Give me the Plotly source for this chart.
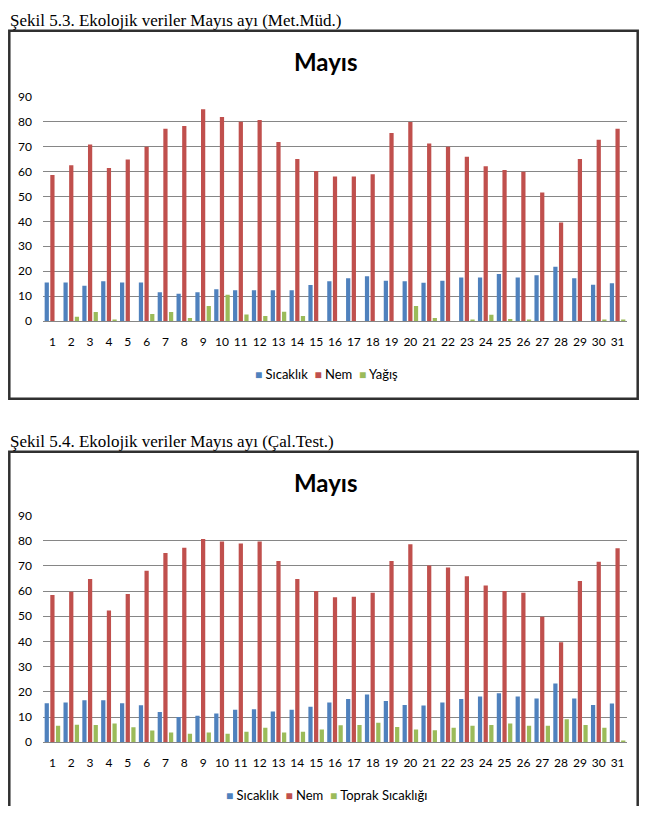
import plotly.graph_objects as go

# The page keeps its default 8 px body margin, so the figure is 631 x 805 and every
# reference pixel position (x, y) is placed at (x - 8, y - 8) inside the figure.
W, H, OFF = 631, 805, 8

days = [str(d) for d in range(1, 32)]

# Chart 1 (Met.Müd.)
sicaklik_1 = [15.5, 15.5, 14.2, 16.0, 15.5, 15.5, 11.6, 11.0, 11.6, 12.8, 12.4, 12.4, 12.4, 12.4, 14.5,
              16.0, 17.2, 18.0, 16.2, 16.0, 15.4, 16.2, 17.5, 17.5, 18.9, 17.5, 18.4, 21.8, 17.2, 14.6, 15.2]
nem_1 = [58.6, 62.5, 70.8, 61.4, 64.8, 69.9, 77.1, 78.2, 84.9, 81.8, 79.9, 80.6, 71.8, 65.0, 60.2,
         58.0, 58.0, 58.9, 75.4, 79.8, 71.2, 69.9, 65.9, 62.1, 60.6, 59.9, 51.5, 39.5, 65.0, 72.7, 77.1]
yagis_1 = [0.0, 1.8, 3.7, 0.4, 0.0, 2.9, 3.7, 1.3, 6.1, 10.6, 2.7, 2.1, 3.8, 2.1, 0.0,
           0.0, 0.0, 0.0, 0.0, 6.1, 1.3, 0.0, 0.4, 2.6, 0.9, 0.4, 0.0, 0.0, 0.0, 0.4, 0.4]

# Chart 2 (Çal.Test.)
sicaklik_2 = [15.5, 15.8, 16.7, 16.7, 15.5, 14.7, 12.0, 10.0, 10.5, 11.4, 12.9, 13.1, 12.2, 12.9, 14.1,
              15.8, 17.2, 18.9, 16.4, 14.8, 14.6, 15.8, 17.2, 18.1, 19.4, 18.1, 17.4, 23.3, 17.4, 14.8, 15.4]
nem_2 = [58.4, 59.7, 64.8, 52.3, 58.8, 68.1, 75.1, 77.2, 80.7, 79.7, 78.9, 79.7, 71.9, 64.8, 60.0,
         57.6, 57.8, 59.3, 71.9, 78.6, 70.2, 69.4, 65.9, 62.2, 60.0, 59.3, 49.8, 39.7, 64.0, 71.6, 77.0]
toprak_2 = [6.5, 6.9, 6.8, 7.4, 5.9, 4.7, 3.9, 3.4, 3.9, 3.4, 4.2, 5.7, 3.9, 4.2, 5.0,
            6.7, 6.8, 7.7, 6.0, 5.0, 4.8, 5.7, 6.5, 6.8, 7.4, 6.5, 6.5, 9.1, 6.8, 5.7, 0.4]

y_ticks = [0, 10, 20, 30, 40, 50, 60, 70, 80, 90]

BLUE, RED, GREEN = "#4F81BD", "#C0504D", "#9BBB59"
GRID = "#868686"
FONT = "Lato"
FRAME = "#303030"


def X(px):
    return (px - OFF) / W


def Y(py):
    return 1 - (py - OFF) / H


fig = go.Figure()

series_1 = [("Sıcaklık", sicaklik_1, BLUE), ("Nem", nem_1, RED), ("Yağış", yagis_1, GREEN)]
series_2 = [("Sıcaklık", sicaklik_2, BLUE), ("Nem", nem_2, RED), ("Toprak Sıcaklığı", toprak_2, GREEN)]

for name, vals, col in series_1:
    fig.add_trace(go.Bar(x=days, y=vals, name=name, marker=dict(color=col, line=dict(width=0)),
                         xaxis="x", yaxis="y", showlegend=False))
for name, vals, col in series_2:
    fig.add_trace(go.Bar(x=days, y=vals, name=name, marker=dict(color=col, line=dict(width=0)),
                         xaxis="x2", yaxis="y2", showlegend=False))

xcommon = dict(type="category", showgrid=False, zeroline=False, showline=True, linecolor=GRID,
               linewidth=1, ticks="", tickfont=dict(family=FONT, size=12, color="#000000"),
               ticklabelstandoff=9, fixedrange=True)
ycommon = dict(range=[0, 90], tickvals=y_ticks, showgrid=True, gridcolor=GRID, gridwidth=1,
               zeroline=False, showline=False, ticks="",
               tickfont=dict(family=FONT, size=12, color="#000000"), ticklabelstandoff=10,
               fixedrange=True)

fig.update_layout(
    width=W, height=H,
    margin=dict(l=0, r=0, t=0, b=0),
    paper_bgcolor="white", plot_bgcolor="white",
    barmode="group", bargap=0.1, bargroupgap=0.25,
    showlegend=False,
    xaxis=dict(domain=[X(43), X(627)], anchor="y", **xcommon),
    yaxis=dict(domain=[Y(319), Y(90)], anchor="x", **ycommon),
    xaxis2=dict(domain=[X(43), X(627)], anchor="y2", **xcommon),
    yaxis2=dict(domain=[Y(748), Y(517)], anchor="x2", **ycommon),
)

# Frames (side edges kept just inside the figure)
L, R = X(9.3), X(637.7)
fig.add_shape(type="rect", xref="paper", yref="paper", x0=L, x1=R, y0=Y(398), y1=Y(23),
              line=dict(color=FRAME, width=2.5), fillcolor="rgba(0,0,0,0)", layer="above")
fig.add_shape(type="path", xref="paper", yref="paper",
              path=f"M {L},0 L {L},{Y(452)} L {R},{Y(452)} L {R},0",
              line=dict(color=FRAME, width=2.5), fillcolor="rgba(0,0,0,0)", layer="above")

ann = []
# Captions
ann.append(dict(text="Şekil 5.3. Ekolojik veriler Mayıs ayı (Met.Müd.)", x=X(8), y=Y(13),
                xanchor="left", yanchor="middle",
                font=dict(family="Liberation Serif", size=17, color="#000000")))
ann.append(dict(text="Şekil 5.4. Ekolojik veriler Mayıs ayı (Çal.Test.)", x=X(8), y=Y(441.5),
                xanchor="left", yanchor="middle",
                font=dict(family="Liberation Serif", size=17, color="#000000")))
# Titles
for ty in (54, 483):
    ann.append(dict(text="<b>Mayıs</b>", x=X(326), y=Y(ty), xanchor="center", yanchor="middle",
                    font=dict(family=FONT, size=24, color="#000000")))


def legend_text(items):
    parts = []
    for name, _, col in items:
        parts.append(f'<span style="color:{col};font-size:12px">■</span> {name}')
    return "&nbsp;&nbsp;".join(parts)


ann.append(dict(text=legend_text(series_1), x=X(326), y=Y(373), xanchor="center", yanchor="middle",
                font=dict(family=FONT, size=13, color="#000000")))
ann.append(dict(text=legend_text(series_2), x=X(326), y=Y(802), xanchor="center", yanchor="middle",
                font=dict(family=FONT, size=13, color="#000000")))

for a in ann:
    a.update(xref="paper", yref="paper", showarrow=False)
fig.update_layout(annotations=ann)

fig.write_html("out.html", config={"displayModeBar": False})
